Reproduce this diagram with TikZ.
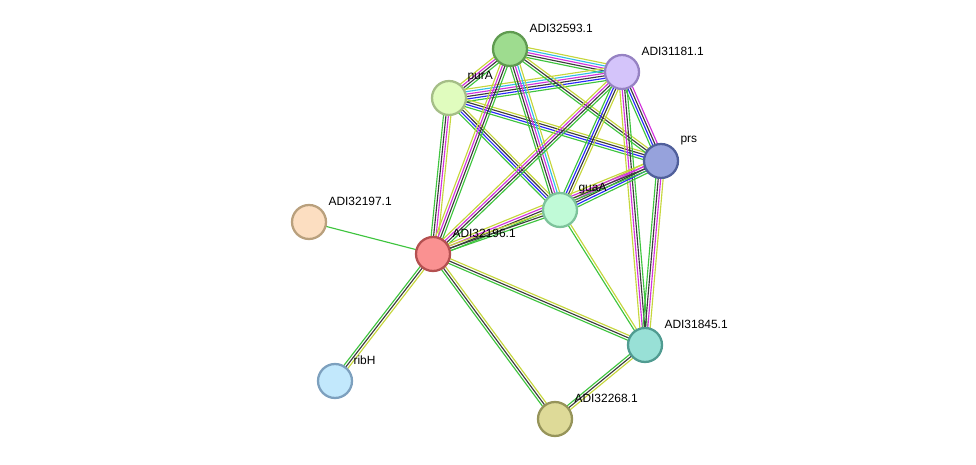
\documentclass[tikz,border=0pt]{standalone}
\usepackage{fontspec}
\setmainfont{Liberation Sans}
\usepackage{tikz}
\usetikzlibrary{calc, backgrounds}
% evidence colours
\definecolor{ev-nb}{RGB}{62,196,62}
\definecolor{ev-co}{RGB}{60,60,60}
\definecolor{ev-ex}{RGB}{210,50,220}
\definecolor{ev-db}{RGB}{50,190,230}
\definecolor{ev-oc}{RGB}{40,40,250}
\definecolor{ev-tm}{RGB}{198,214,60}

% one line per evidence colour, side by side
\newcommand{\bundle}[3]{%
  \def\nlines{0}%
  \foreach \c in {#3} {\pgfmathtruncatemacro\tmp{\nlines+1}\global\let\nlines\tmp}%
  \foreach \c [count=\k] in {#3} {%
    \pgfmathsetmacro\off{(\k-(\nlines+1)/2)*1.4}%
    \draw[\c] ($(#1.center)!\off pt!90:(#2.center)$) -- ($(#2.center)!\off pt!-90:(#1.center)$);
  }}

\begin{document}
\begin{tikzpicture}[
    x=0.02cm, y=-0.02cm,
    prot/.style={circle, minimum size=0.68cm, line width=1.3pt, inner sep=0pt},
    lbl/.style={anchor=west, inner sep=0pt, font=\fontsize{6.8}{8}\selectfont},
    every path/.style={line width=0.65pt}
]
    \useasboundingbox (0,0) rectangle (976,465);

    % proteins
    \node[prot, fill={rgb,255:red,158;green,220;blue,143}, draw={rgb,255:red,95;green,155;blue,80}] (n32593) at (510,49) {};
    \node[prot, fill={rgb,255:red,212;green,196;blue,250}, draw={rgb,255:red,150;green,130;blue,195}] (n31181) at (622,72) {};
    \node[prot, fill={rgb,255:red,224;green,252;blue,190}, draw={rgb,255:red,165;green,190;blue,135}] (purA) at (449,98) {};
    \node[prot, fill={rgb,255:red,150;green,162;blue,220}, draw={rgb,255:red,80;green,95;blue,155}] (prs) at (661,161) {};
    \node[prot, fill={rgb,255:red,192;green,250;blue,215}, draw={rgb,255:red,125;green,195;blue,155}] (guaA) at (560,210) {};
    \node[prot, fill={rgb,255:red,252;green,222;blue,193}, draw={rgb,255:red,185;green,160;blue,125}] (n32197) at (309,222) {};
    \node[prot, fill={rgb,255:red,250;green,145;blue,145}, draw={rgb,255:red,180;green,80;blue,80}] (n32196) at (433,254) {};
    \node[prot, fill={rgb,255:red,152;green,224;blue,214}, draw={rgb,255:red,80;green,155;blue,145}] (n31845) at (645,345) {};
    \node[prot, fill={rgb,255:red,194;green,232;blue,252}, draw={rgb,255:red,125;green,160;blue,190}] (ribH) at (335,381) {};
    \node[prot, fill={rgb,255:red,222;green,218;blue,152}, draw={rgb,255:red,150;green,148;blue,90}] (n32268) at (555,419) {};

    % names
    \node[lbl] (l32593) at ($(n32593)+(19,-21)$) {ADI32593.1};
    \node[lbl] (l31181) at ($(n31181)+(19,-21)$) {ADI31181.1};
    \node[lbl] (lpurA) at ($(purA)+(18,-21)$) {purA};
    \node[lbl] (lprs) at ($(prs)+(19,-20)$) {prs};
    \node[lbl] (lguaA) at ($(guaA)+(18,-21)$) {guaA};
    \node[lbl] (l32197) at ($(n32197)+(19,-21)$) {ADI32197.1};
    \node[lbl] (l32196) at ($(n32196)+(19,-21)$) {ADI32196.1};
    \node[lbl] (l31845) at ($(n31845)+(19,-21)$) {ADI31845.1};
    \node[lbl] (lribH) at ($(ribH)+(18,-21)$) {ribH};
    \node[lbl] (l32268) at ($(n32268)+(19,-21)$) {ADI32268.1};

    % interactions
    \begin{pgfonlayer}{background}
    \bundle{n32593}{n31181}{ev-nb, ev-co, ev-ex, ev-db, ev-tm}
    \bundle{purA}{n32593}{ev-nb, ev-co, ev-ex, ev-tm}
    \bundle{purA}{n31181}{ev-nb, ev-oc, ev-co, ev-ex, ev-db, ev-tm}
    \bundle{purA}{prs}{ev-nb, ev-oc, ev-co, ev-tm}
    \bundle{purA}{guaA}{ev-nb, ev-oc, ev-co, ev-tm}
    \bundle{n32196}{purA}{ev-tm, ev-ex, ev-co, ev-nb}
    \bundle{n32196}{n32593}{ev-nb, ev-co, ev-ex, ev-tm}
    \bundle{n32593}{guaA}{ev-nb, ev-co, ev-ex, ev-db, ev-tm}
    \bundle{n32593}{prs}{ev-nb, ev-co, ev-tm}
    \bundle{n31181}{prs}{ev-nb, ev-oc, ev-co, ev-ex}
    \bundle{n31181}{guaA}{ev-nb, ev-oc, ev-co, ev-tm}
    \bundle{n32196}{n31181}{ev-nb, ev-co, ev-ex, ev-tm}
    \bundle{n31181}{n31845}{ev-tm, ev-ex, ev-co, ev-nb}
    \bundle{guaA}{prs}{ev-nb, ev-oc, ev-co, ev-ex, ev-tm}
    \bundle{n32196}{prs}{ev-nb, ev-co, ev-ex, ev-tm}
    \bundle{n32196}{guaA}{ev-nb, ev-co, ev-tm}
    \bundle{prs}{n31845}{ev-nb, ev-co, ev-ex, ev-tm}
    \bundle{guaA}{n31845}{ev-nb, ev-tm}
    \bundle{n32196}{n31845}{ev-nb, ev-co, ev-tm}
    \bundle{n32196}{n32268}{ev-nb, ev-co, ev-tm}
    \bundle{n32196}{ribH}{ev-nb, ev-co, ev-tm}
    \bundle{n32196}{n32197}{ev-nb}
    \bundle{n31845}{n32268}{ev-nb, ev-co, ev-tm}
    \end{pgfonlayer}
\end{tikzpicture}
\end{document}
